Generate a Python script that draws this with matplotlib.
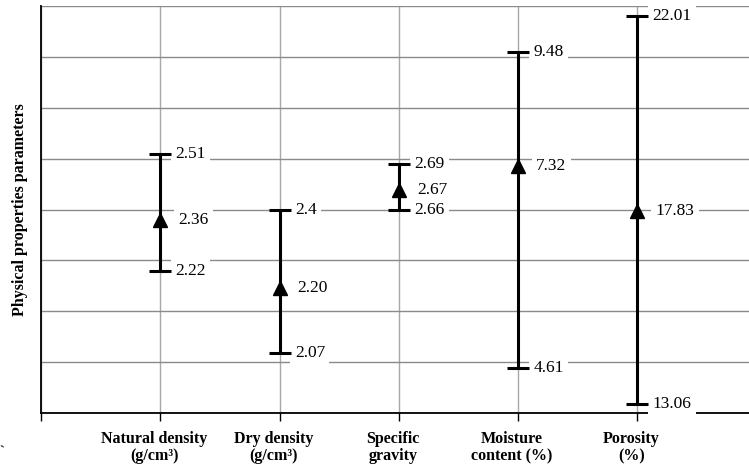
import matplotlib
matplotlib.use("Agg")
import matplotlib.pyplot as plt
import matplotlib.transforms as mtransforms

categories = ["Natural density\n(g/cm³)", "Dry density\n(g/cm³)", "Specific\ngravity",
              "Moisture\ncontent (%)", "Porosity\n(%)"]
# value labels (min, mean, max) as printed
low_labels = ["2.22", "2.07", "2.66", "4.61", "13.06"]
mid_labels = ["2.36", "2.20", "2.67", "7.32", "17.83"]
high_labels = ["2.51", "2.4", "2.69", "9.48", "22.01"]
# drawn levels on the (unlabelled) vertical axis in grid units
low_level = [2.79, 1.18, 3.99, 0.88, 0.18]
mid_level = [3.79, 2.46, 4.38, 4.85, 3.97]
high_level = [5.09, 3.99, 4.89, 7.09, 7.80]

plt.rcParams['font.family'] = ['Liberation Serif', 'DejaVu Serif']

fig = plt.figure(figsize=(7.49, 4.66), dpi=100)
ax = fig.add_axes([41/749, (466-413)/466, 1 - 41/749, (413-6)/466])

xs = list(range(1, len(categories) + 1))
for i, x in enumerate(xs):
    ax.errorbar([x], [mid_level[i]],
                yerr=[[mid_level[i] - low_level[i]], [high_level[i] - mid_level[i]]],
                fmt='^', color='black', ms=10, elinewidth=2.2, capsize=8, capthick=2.2,
                zorder=5)
    for lvl, lab, off in [(low_level[i], low_labels[i], 11),
                          (high_level[i], high_labels[i], 11),
                          (mid_level[i], mid_labels[i], 13)]:
        ax.annotate(lab, xy=(x, lvl), xytext=(off, 0), textcoords='offset points',
                    ha='left', va='center', fontsize=12.5, color='black',
                    bbox=dict(boxstyle='square,pad=0.25', fc='white', ec='none'),
                    zorder=4)

ax.set_xlim(0, (749 - 41) / 119.25)
ax.set_ylim(0, 8.0)
ax.set_yticks(range(0, 9))
ax.set_yticklabels([])
ax.tick_params(axis='y', length=0)
ax.set_xticks(range(0, 6))
ax.set_xticklabels([""] + categories, fontsize=11.5, fontweight='bold', linespacing=1.1)
ax.tick_params(axis='x', length=6, width=1, direction='out', pad=7, color='black')
offset = mtransforms.ScaledTranslation(-6/100, 0, fig.dpi_scale_trans)
for lab in ax.get_xticklabels():
    lab.set_transform(lab.get_transform() + offset)

ax.grid(True, axis='y', color='#8a8a8a', linewidth=1.0, zorder=0)
ax.grid(True, axis='x', color='#a8a8a8', linewidth=1.0, zorder=0)
ax.set_axisbelow(True)
for s in ['top', 'right']:
    ax.spines[s].set_visible(False)
for s in ['left', 'bottom']:
    ax.spines[s].set_color('black')
    ax.spines[s].set_linewidth(1.3)

ax.set_ylabel("Physical properties parameters", fontsize=11.5, fontweight='bold', labelpad=6)
fig.text(4/749, 1 - 452/466, "`", fontsize=12, ha='center', va='center', rotation=10)

fig.savefig("out.png", dpi=100)
